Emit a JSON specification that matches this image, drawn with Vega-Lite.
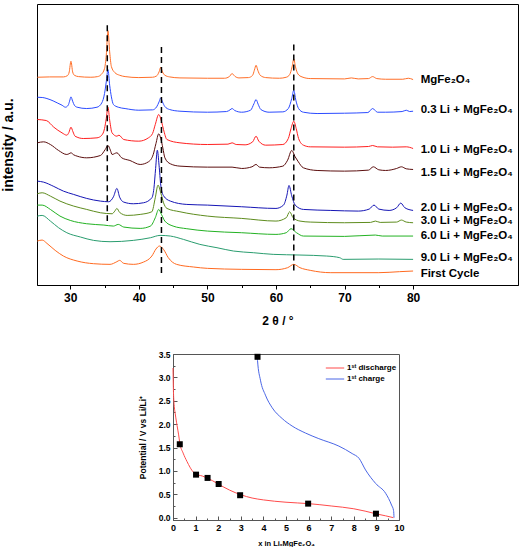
{
 "$schema": "https://vega.github.io/schema/vega-lite/v6.json",
 "padding": {"left": 0, "top": 3, "right": 0, "bottom": 0},
 "background": "white",
 "spacing": 22,
 "resolve": {"scale": {"color": "independent"}, "legend": {"color": "independent"}},
 "config": {
  "view": {"stroke": null},
  "font": "Liberation Sans",
  "axis": {"grid": false, "labelOverlap": false, "labelFont": "Liberation Sans", "titleFont": "Liberation Sans", "labelFontWeight": "bold", "titleFontWeight": "bold", "labelColor": "#000", "titleColor": "#000", "domainColor": "#000", "tickColor": "#000"}
 },
 "datasets": {
  "xrd": [
   {"s":"a","t":25.2,"i":624},{"s":"a","t":27,"i":625},{"s":"a","t":29,"i":625},{"s":"a","t":29.6,"i":629},{"s":"a","t":29.85,"i":640},{"s":"a","t":30.1,"i":672},{"s":"a","t":30.35,"i":640},{"s":"a","t":30.6,"i":630},{"s":"a","t":31.2,"i":626},{"s":"a","t":33,"i":624},{"s":"a","t":34,"i":626},{"s":"a","t":34.5,"i":632},{"s":"a","t":35,"i":650},{"s":"a","t":35.25,"i":690},{"s":"a","t":35.5,"i":764},{"s":"a","t":35.75,"i":700},{"s":"a","t":36,"i":656},{"s":"a","t":36.5,"i":638},{"s":"a","t":37.2,"i":630},{"s":"a","t":38,"i":626},{"s":"a","t":40,"i":623},{"s":"a","t":42,"i":624},{"s":"a","t":42.6,"i":628},{"s":"a","t":42.95,"i":640},{"s":"a","t":43.2,"i":654},{"s":"a","t":43.45,"i":640},{"s":"a","t":43.8,"i":630},{"s":"a","t":44.5,"i":625},{"s":"a","t":46,"i":622},{"s":"a","t":50,"i":621},{"s":"a","t":52.5,"i":621},{"s":"a","t":53.2,"i":626},{"s":"a","t":53.6,"i":635},{"s":"a","t":54,"i":627},{"s":"a","t":54.6,"i":622},{"s":"a","t":56,"i":623},{"s":"a","t":56.6,"i":630},{"s":"a","t":56.85,"i":645},{"s":"a","t":57.1,"i":660},{"s":"a","t":57.35,"i":645},{"s":"a","t":57.7,"i":630},{"s":"a","t":58.5,"i":623},{"s":"a","t":60.5,"i":621},{"s":"a","t":61.5,"i":624},{"s":"a","t":62,"i":632},{"s":"a","t":62.35,"i":655},{"s":"a","t":62.6,"i":679},{"s":"a","t":62.85,"i":655},{"s":"a","t":63.2,"i":634},{"s":"a","t":63.8,"i":625},{"s":"a","t":65,"i":620},{"s":"a","t":70,"i":619},{"s":"a","t":71,"i":622},{"s":"a","t":72,"i":619},{"s":"a","t":73.5,"i":620},{"s":"a","t":74.1,"i":626},{"s":"a","t":74.7,"i":620},{"s":"a","t":76,"i":618},{"s":"a","t":78.5,"i":618},{"s":"a","t":79.3,"i":621},{"s":"a","t":80,"i":617},
   {"s":"b","t":25.2,"i":564},{"s":"b","t":26,"i":563},{"s":"b","t":26.6,"i":560},{"s":"b","t":27.5,"i":553},{"s":"b","t":28.1,"i":547},{"s":"b","t":28.8,"i":540},{"s":"b","t":29.3,"i":534},{"s":"b","t":29.7,"i":540},{"s":"b","t":29.9,"i":552},{"s":"b","t":30.1,"i":565},{"s":"b","t":30.35,"i":552},{"s":"b","t":30.6,"i":540},{"s":"b","t":31,"i":534},{"s":"b","t":32.4,"i":530},{"s":"b","t":33.9,"i":534},{"s":"b","t":34.6,"i":547},{"s":"b","t":35,"i":575},{"s":"b","t":35.25,"i":610},{"s":"b","t":35.5,"i":647},{"s":"b","t":35.75,"i":600},{"s":"b","t":36,"i":565},{"s":"b","t":36.3,"i":542},{"s":"b","t":37,"i":534},{"s":"b","t":38,"i":530},{"s":"b","t":40,"i":525},{"s":"b","t":42,"i":526},{"s":"b","t":42.6,"i":535},{"s":"b","t":42.95,"i":550},{"s":"b","t":43.2,"i":562},{"s":"b","t":43.45,"i":550},{"s":"b","t":43.8,"i":536},{"s":"b","t":44.5,"i":527},{"s":"b","t":46,"i":522},{"s":"b","t":50,"i":519},{"s":"b","t":52.8,"i":521},{"s":"b","t":53.3,"i":526},{"s":"b","t":53.6,"i":530},{"s":"b","t":54,"i":524},{"s":"b","t":55,"i":519},{"s":"b","t":56.3,"i":525},{"s":"b","t":56.8,"i":545},{"s":"b","t":57.1,"i":557},{"s":"b","t":57.4,"i":543},{"s":"b","t":57.8,"i":527},{"s":"b","t":59,"i":519},{"s":"b","t":61,"i":520},{"s":"b","t":61.8,"i":530},{"s":"b","t":62.3,"i":560},{"s":"b","t":62.6,"i":585},{"s":"b","t":62.9,"i":555},{"s":"b","t":63.3,"i":530},{"s":"b","t":64,"i":519},{"s":"b","t":66,"i":515},{"s":"b","t":70,"i":516},{"s":"b","t":73.4,"i":518},{"s":"b","t":74.1,"i":530},{"s":"b","t":74.8,"i":519},{"s":"b","t":76,"i":519},{"s":"b","t":78.4,"i":521},{"s":"b","t":79,"i":525},{"s":"b","t":79.5,"i":521},{"s":"b","t":80,"i":522},
   {"s":"c","t":25.2,"i":497},{"s":"c","t":26.5,"i":494},{"s":"c","t":27.6,"i":474},{"s":"c","t":28.8,"i":457},{"s":"c","t":29.5,"i":450},{"s":"c","t":29.8,"i":458},{"s":"c","t":30.1,"i":474},{"s":"c","t":30.4,"i":460},{"s":"c","t":30.7,"i":447},{"s":"c","t":31.9,"i":440},{"s":"c","t":33.9,"i":442},{"s":"c","t":34.6,"i":450},{"s":"c","t":35,"i":470},{"s":"c","t":35.25,"i":500},{"s":"c","t":35.5,"i":534},{"s":"c","t":35.75,"i":495},{"s":"c","t":36.1,"i":457},{"s":"c","t":36.8,"i":447},{"s":"c","t":37.1,"i":450},{"s":"c","t":37.8,"i":437},{"s":"c","t":40,"i":432},{"s":"c","t":41.4,"i":442},{"s":"c","t":42,"i":455},{"s":"c","t":42.4,"i":482},{"s":"c","t":42.9,"i":512},{"s":"c","t":43.3,"i":492},{"s":"c","t":43.6,"i":467},{"s":"c","t":44.1,"i":437},{"s":"c","t":46,"i":427},{"s":"c","t":50,"i":422},{"s":"c","t":53,"i":423},{"s":"c","t":53.6,"i":427},{"s":"c","t":54.2,"i":422},{"s":"c","t":55.5,"i":421},{"s":"c","t":56.6,"i":430},{"s":"c","t":57.1,"i":447},{"s":"c","t":57.5,"i":432},{"s":"c","t":58.5,"i":420},{"s":"c","t":61,"i":422},{"s":"c","t":61.8,"i":440},{"s":"c","t":62.2,"i":470},{"s":"c","t":62.6,"i":492},{"s":"c","t":62.95,"i":470},{"s":"c","t":63.3,"i":440},{"s":"c","t":64,"i":420},{"s":"c","t":65,"i":415},{"s":"c","t":70,"i":414},{"s":"c","t":73.5,"i":416},{"s":"c","t":74.1,"i":419},{"s":"c","t":74.8,"i":415},{"s":"c","t":77,"i":414},{"s":"c","t":79,"i":415},{"s":"c","t":80,"i":410},
   {"s":"d","t":25.2,"i":427},{"s":"d","t":26.1,"i":430},{"s":"d","t":27.1,"i":422},{"s":"d","t":28.3,"i":404},{"s":"d","t":29.5,"i":392},{"s":"d","t":29.8,"i":394},{"s":"d","t":30.1,"i":397},{"s":"d","t":30.5,"i":391},{"s":"d","t":31,"i":387},{"s":"d","t":32.4,"i":382},{"s":"d","t":34.4,"i":389},{"s":"d","t":35.1,"i":407},{"s":"d","t":35.5,"i":419},{"s":"d","t":35.85,"i":405},{"s":"d","t":36.1,"i":392},{"s":"d","t":36.8,"i":397},{"s":"d","t":37.5,"i":382},{"s":"d","t":38.7,"i":374},{"s":"d","t":40.2,"i":362},{"s":"d","t":41.4,"i":370},{"s":"d","t":42.1,"i":392},{"s":"d","t":42.5,"i":425},{"s":"d","t":42.9,"i":454},{"s":"d","t":43.2,"i":440},{"s":"d","t":43.5,"i":412},{"s":"d","t":43.8,"i":382},{"s":"d","t":44.6,"i":364},{"s":"d","t":46,"i":357},{"s":"d","t":50,"i":354},{"s":"d","t":53.6,"i":354},{"s":"d","t":55,"i":350},{"s":"d","t":56.5,"i":355},{"s":"d","t":57.1,"i":362},{"s":"d","t":57.6,"i":354},{"s":"d","t":59,"i":352},{"s":"d","t":61,"i":357},{"s":"d","t":61.7,"i":375},{"s":"d","t":62.3,"i":404},{"s":"d","t":62.8,"i":385},{"s":"d","t":63.2,"i":372},{"s":"d","t":64,"i":352},{"s":"d","t":66,"i":344},{"s":"d","t":70,"i":342},{"s":"d","t":73.5,"i":345},{"s":"d","t":74.2,"i":355},{"s":"d","t":75,"i":346},{"s":"d","t":76,"i":344},{"s":"d","t":77.6,"i":350},{"s":"d","t":78.3,"i":355},{"s":"d","t":79,"i":349},{"s":"d","t":80,"i":347},
   {"s":"e","t":25.2,"i":312},{"s":"e","t":26.1,"i":309},{"s":"e","t":27.6,"i":296},{"s":"e","t":29,"i":282},{"s":"e","t":30.5,"i":272},{"s":"e","t":32.4,"i":260},{"s":"e","t":34.4,"i":252},{"s":"e","t":35.6,"i":250},{"s":"e","t":36.3,"i":265},{"s":"e","t":36.8,"i":290},{"s":"e","t":37.2,"i":264},{"s":"e","t":37.8,"i":249},{"s":"e","t":39.2,"i":244},{"s":"e","t":40.7,"i":247},{"s":"e","t":41.9,"i":262},{"s":"e","t":42.2,"i":290},{"s":"e","t":42.45,"i":350},{"s":"e","t":42.7,"i":405},{"s":"e","t":42.95,"i":360},{"s":"e","t":43.2,"i":300},{"s":"e","t":43.6,"i":268},{"s":"e","t":44.6,"i":252},{"s":"e","t":47,"i":242},{"s":"e","t":50,"i":240},{"s":"e","t":55,"i":235},{"s":"e","t":60,"i":230},{"s":"e","t":61.1,"i":240},{"s":"e","t":61.6,"i":270},{"s":"e","t":61.9,"i":299},{"s":"e","t":62.3,"i":268},{"s":"e","t":62.8,"i":240},{"s":"e","t":64,"i":227},{"s":"e","t":68,"i":224},{"s":"e","t":72,"i":222},{"s":"e","t":73.6,"i":228},{"s":"e","t":74.3,"i":240},{"s":"e","t":75,"i":228},{"s":"e","t":76.5,"i":224},{"s":"e","t":77.6,"i":232},{"s":"e","t":78.2,"i":246},{"s":"e","t":78.8,"i":232},{"s":"e","t":80,"i":224},
   {"s":"f","t":25.2,"i":274},{"s":"f","t":25.9,"i":277},{"s":"f","t":27.1,"i":267},{"s":"f","t":28.5,"i":252},{"s":"f","t":30.5,"i":237},{"s":"f","t":32.4,"i":227},{"s":"f","t":34.4,"i":217},{"s":"f","t":36.1,"i":214},{"s":"f","t":36.5,"i":222},{"s":"f","t":36.8,"i":230},{"s":"f","t":37.2,"i":218},{"s":"f","t":38.3,"i":209},{"s":"f","t":40.2,"i":212},{"s":"f","t":41.9,"i":220},{"s":"f","t":42.4,"i":262},{"s":"f","t":42.8,"i":300},{"s":"f","t":43.2,"i":277},{"s":"f","t":43.6,"i":247},{"s":"f","t":44.1,"i":230},{"s":"f","t":46,"i":220},{"s":"f","t":50,"i":207},{"s":"f","t":55,"i":200},{"s":"f","t":60,"i":192},{"s":"f","t":61.5,"i":202},{"s":"f","t":62,"i":220},{"s":"f","t":62.5,"i":202},{"s":"f","t":63.5,"i":192},{"s":"f","t":65,"i":189},{"s":"f","t":70,"i":187},{"s":"f","t":73.8,"i":188},{"s":"f","t":74.5,"i":192},{"s":"f","t":75.2,"i":188},{"s":"f","t":77.6,"i":189},{"s":"f","t":78.3,"i":195},{"s":"f","t":79,"i":189},{"s":"f","t":80,"i":187},
   {"s":"g","t":25.2,"i":240},{"s":"g","t":25.9,"i":240},{"s":"g","t":27.1,"i":227},{"s":"g","t":28.5,"i":207},{"s":"g","t":30,"i":194},{"s":"g","t":32.4,"i":184},{"s":"g","t":34.9,"i":180},{"s":"g","t":36.3,"i":177},{"s":"g","t":37,"i":182},{"s":"g","t":37.8,"i":174},{"s":"g","t":40.2,"i":170},{"s":"g","t":41.7,"i":177},{"s":"g","t":42.4,"i":202},{"s":"g","t":42.9,"i":227},{"s":"g","t":43.3,"i":212},{"s":"g","t":43.8,"i":192},{"s":"g","t":45,"i":177},{"s":"g","t":47,"i":169},{"s":"g","t":50,"i":162},{"s":"g","t":55,"i":157},{"s":"g","t":60,"i":152},{"s":"g","t":61.5,"i":157},{"s":"g","t":62.2,"i":169},{"s":"g","t":63,"i":157},{"s":"g","t":64,"i":147},{"s":"g","t":70,"i":146},{"s":"g","t":74.5,"i":150},{"s":"g","t":75.5,"i":147},{"s":"g","t":80,"i":147},
   {"s":"h","t":25.2,"i":207},{"s":"h","t":25.9,"i":209},{"s":"h","t":27.1,"i":192},{"s":"h","t":28.3,"i":172},{"s":"h","t":29.5,"i":157},{"s":"h","t":31.5,"i":144},{"s":"h","t":33.4,"i":134},{"s":"h","t":35.8,"i":130},{"s":"h","t":39.2,"i":134},{"s":"h","t":41.7,"i":142},{"s":"h","t":43.1,"i":149},{"s":"h","t":44.6,"i":147},{"s":"h","t":46.5,"i":137},{"s":"h","t":48.9,"i":122},{"s":"h","t":51.4,"i":112},{"s":"h","t":53.8,"i":102},{"s":"h","t":56.7,"i":97},{"s":"h","t":59.6,"i":92},{"s":"h","t":63.5,"i":90},{"s":"h","t":67.4,"i":87},{"s":"h","t":69.3,"i":82},{"s":"h","t":69.8,"i":77},{"s":"h","t":75,"i":78},{"s":"h","t":80,"i":77},
   {"s":"i","t":25.2,"i":132},{"s":"i","t":25.9,"i":135},{"s":"i","t":26.6,"i":125},{"s":"i","t":27.8,"i":104},{"s":"i","t":29,"i":87},{"s":"i","t":31,"i":72},{"s":"i","t":33.4,"i":64},{"s":"i","t":35.8,"i":62},{"s":"i","t":36.8,"i":70},{"s":"i","t":37.2,"i":74},{"s":"i","t":37.8,"i":65},{"s":"i","t":39.2,"i":62},{"s":"i","t":40.7,"i":69},{"s":"i","t":41.9,"i":87},{"s":"i","t":42.5,"i":108},{"s":"i","t":43,"i":117},{"s":"i","t":43.6,"i":107},{"s":"i","t":44.3,"i":82},{"s":"i","t":45.5,"i":62},{"s":"i","t":48,"i":54},{"s":"i","t":50,"i":50},{"s":"i","t":55,"i":47},{"s":"i","t":60,"i":46},{"s":"i","t":61.7,"i":52},{"s":"i","t":62.6,"i":62},{"s":"i","t":63.5,"i":52},{"s":"i","t":65,"i":44},{"s":"i","t":68,"i":37},{"s":"i","t":75,"i":37},{"s":"i","t":78,"i":40},{"s":"i","t":80,"i":42}
  ],
  "dash": [{"t":35.4,"y1":780,"y2":192},{"t":43.3,"y1":715,"y2":32},{"t":62.6,"y1":722,"y2":32}],
  "lab": [
   {"l":"MgFe₂O₄","t":81.1,"i":617},
   {"l":"0.3 Li + MgFe₂O₄","t":81.1,"i":525},
   {"l":"1.0 Li + MgFe₂O₄","t":81.1,"i":405},
   {"l":"1.5 Li + MgFe₂O₄","t":81.1,"i":335},
   {"l":"2.0 Li + MgFe₂O₄","t":81.1,"i":230},
   {"l":"3.0 Li + MgFe₂O₄","t":81.1,"i":192},
   {"l":"6.0 Li + MgFe₂O₄","t":81.1,"i":147},
   {"l":"9.0 Li + MgFe₂O₄","t":81.1,"i":82},
   {"l":"First Cycle","t":81.1,"i":34}
  ],
  "ec": [
   {"s":"d","x":0,"v":3.2},{"s":"d","x":0.02,"v":2.7},{"s":"d","x":0.05,"v":2.42},{"s":"d","x":0.1,"v":2.22},{"s":"d","x":0.18,"v":1.97},{"s":"d","x":0.25,"v":1.77},{"s":"d","x":0.3,"v":1.6},{"s":"d","x":0.45,"v":1.38},{"s":"d","x":0.62,"v":1.2},{"s":"d","x":0.75,"v":1.08},{"s":"d","x":0.84,"v":1.01},{"s":"d","x":1.0,"v":0.93},{"s":"d","x":1.3,"v":0.89},{"s":"d","x":1.5,"v":0.85},{"s":"d","x":1.75,"v":0.79},{"s":"d","x":2.0,"v":0.72},{"s":"d","x":2.5,"v":0.59},{"s":"d","x":3.0,"v":0.49},{"s":"d","x":3.5,"v":0.42},{"s":"d","x":4,"v":0.38},{"s":"d","x":5,"v":0.33},{"s":"d","x":6,"v":0.3},{"s":"d","x":7,"v":0.25},{"s":"d","x":8,"v":0.19},{"s":"d","x":8.5,"v":0.14},{"s":"d","x":9,"v":0.08},{"s":"d","x":9.4,"v":0.04},{"s":"d","x":9.75,"v":0.0},
   {"s":"c","x":3.72,"v":3.5},{"s":"c","x":3.74,"v":3.36},{"s":"c","x":3.87,"v":2.94},{"s":"c","x":4.09,"v":2.62},{"s":"c","x":4.39,"v":2.35},{"s":"c","x":4.83,"v":2.12},{"s":"c","x":5.27,"v":1.96},{"s":"c","x":5.86,"v":1.81},{"s":"c","x":6.45,"v":1.69},{"s":"c","x":7.34,"v":1.53},{"s":"c","x":7.93,"v":1.37},{"s":"c","x":8.23,"v":1.27},{"s":"c","x":8.52,"v":1.02},{"s":"c","x":8.97,"v":0.73},{"s":"c","x":9.41,"v":0.52},{"s":"c","x":9.67,"v":0.27},{"s":"c","x":9.76,"v":0.15},{"s":"c","x":9.78,"v":0.0}
  ],
  "pts": [{"x":0.3,"v":1.57},{"x":1.02,"v":0.92},{"x":1.53,"v":0.85},{"x":2.02,"v":0.72},{"x":2.97,"v":0.48},{"x":5.98,"v":0.3},{"x":8.98,"v":0.085},{"x":3.74,"v":3.44}]
 },
 "vconcat": [
  {
   "width": 481, "height": 281,
   "view": {"stroke": "#000", "strokeWidth": 1},
   "layer": [
    {
     "data": {"name": "xrd"},
     "mark": {"type": "line", "strokeWidth": 1, "interpolate": "monotone"},
     "encoding": {
      "x": {"field": "t", "type": "quantitative", "scale": {"domain": [25.15, 95.3], "nice": false, "zero": false},
            "axis": {"values": [30,35,40,45,50,55,60,65,70,75,80], "labelExpr": "datum.value % 10 === 0 ? datum.label : ''", "labelOverlap": false,
                     "tickSize": {"condition": {"test": "datum.value % 10 === 0", "value": 4}, "value": 2.5},
                     "labelFontSize": 12, "labelPadding": 3, "title": "2 θ / °", "titleFontSize": 12, "titlePadding": 12}},
      "y": {"field": "i", "type": "quantitative", "scale": {"domain": [0, 844], "nice": false},
            "axis": {"title": "intensity / a.u.", "labels": false, "ticks": false, "domain": false, "titleFontSize": 14, "titlePadding": 22}},
      "color": {"field": "s", "type": "nominal", "legend": null,
                "scale": {"domain": ["a","b","c","d","e","f","g","h","i"],
                          "range": ["#FF6F28","#2B4BFF","#FF2020","#5C0F0F","#1515B5","#5E8C1E","#23B223","#2A9D6F","#FF6A20"]}}
     }
    },
    {
     "data": {"name": "dash"},
     "mark": {"type": "rule", "strokeDash": [6, 4], "strokeWidth": 1.5, "color": "#000"},
     "encoding": {"x": {"field": "t", "type": "quantitative"}, "y": {"field": "y1", "type": "quantitative"}, "y2": {"field": "y2"}}
    },
    {
     "data": {"name": "lab"},
     "mark": {"type": "text", "align": "left", "baseline": "middle", "fontWeight": "bold", "fontSize": 11.5, "font": "Liberation Sans", "color": "#000"},
     "encoding": {"x": {"field": "t", "type": "quantitative"}, "y": {"field": "i", "type": "quantitative"}, "text": {"field": "l"}}
    }
   ]
  },
  {
   "spacing": 10,
   "hconcat": [
    {
     "width": 90, "height": 10,
     "data": {"values": [{"a": 1}]},
     "mark": {"type": "point", "opacity": 0},
     "encoding": {}
    },
    {
     "width": 226, "height": 166,
     "view": {"stroke": "#555", "strokeWidth": 1},
     "encoding": {
      "x": {"field": "x", "type": "quantitative", "scale": {"domain": [0, 10], "nice": false, "zero": false},
            "axis": {"values": [0,0.5,1,1.5,2,2.5,3,3.5,4,4.5,5,5.5,6,6.5,7,7.5,8,8.5,9,9.5,10],
                     "labelExpr": "datum.value % 1 === 0 ? format(datum.value, 'd') : ''", "labelOverlap": false,
                     "tickSize": {"condition": {"test": "datum.value % 1 === 0", "value": -4}, "value": -2},
                     "labelFontSize": 9, "labelPadding": 7, "labelFlush": false, "domainColor": "#555", "tickColor": "#555",
                     "title": "x in LiₓMgFe₂O₄", "titleFontSize": 7.5, "titlePadding": 5}},
      "y": {"field": "v", "type": "quantitative", "scale": {"domain": [-0.05, 3.5], "nice": false, "zero": false},
            "axis": {"values": [0,0.25,0.5,0.75,1,1.25,1.5,1.75,2,2.25,2.5,2.75,3,3.25,3.5],
                     "labelExpr": "abs(datum.value*2 - round(datum.value*2)) < 0.001 ? format(datum.value, '.1f') : ''", "labelOverlap": false,
                     "tickSize": {"condition": {"test": "abs(datum.value*2 - round(datum.value*2)) < 0.001", "value": -4}, "value": -2},
                     "labelFontSize": 8.5, "labelPadding": 7, "labelFlush": false, "domainColor": "#555", "tickColor": "#555",
                     "title": "Potential / V vs Li/Li⁺", "titleFontSize": 8.5, "titlePadding": 11}}
     },
     "layer": [
      {
       "data": {"name": "ec"},
       "mark": {"type": "line", "strokeWidth": 1, "interpolate": "monotone"},
       "encoding": {
        "color": {"field": "s", "type": "nominal",
                  "scale": {"domain": ["d", "c"], "range": ["#FF4B4B", "#4A66E6"]},
                  "legend": {"orient": "none", "legendX": 291, "legendY": 7, "title": null, "symbolType": "M-1.5,0H1.5", "symbolSize": 150, "symbolStrokeWidth": 1,
                             "labelFontSize": 8, "labelFontWeight": "bold", "labelFont": "Liberation Sans", "labelColor": "#000", "padding": 0, "rowPadding": 0, "labelOffset": 5,
                             "labelExpr": "datum.label == 'd' ? '1ˢᵗ discharge' : '1ˢᵗ charge'"}}
       }
      },
      {
       "data": {"name": "pts"},
       "mark": {"type": "square", "size": 36, "color": "#000", "opacity": 1, "filled": true}
      }
     ]
    }
   ]
  }
 ]
}
